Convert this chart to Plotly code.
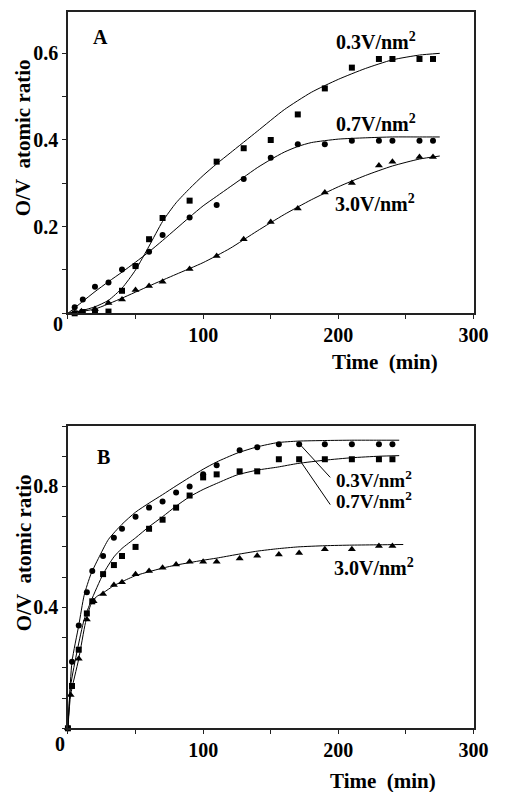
import plotly.graph_objects as go

# ---------------- Panel A data ----------------
a_sq_t = [5, 11, 20, 30, 40, 50, 60, 70, 90, 110, 130, 150, 170, 190, 210, 230, 240, 260, 270]
a_sq_v = [0.0, 0.003, 0.004, 0.004, 0.052, 0.109, 0.171, 0.22, 0.26, 0.35, 0.381, 0.40, 0.459, 0.519, 0.567, 0.587, 0.587, 0.587, 0.587]
a_ci_t = [5, 11, 20, 30, 40, 50, 60, 70, 90, 110, 130, 150, 170, 190, 210, 230, 240, 260, 270]
a_ci_v = [0.014, 0.032, 0.061, 0.071, 0.101, 0.109, 0.142, 0.181, 0.221, 0.25, 0.31, 0.359, 0.39, 0.39, 0.398, 0.398, 0.398, 0.398, 0.398]
a_tr_t = [5, 10, 20, 30, 40, 50, 60, 70, 90, 110, 130, 150, 170, 190, 210, 230, 240, 260, 270]
a_tr_v = [0.0, 0.005, 0.01, 0.024, 0.032, 0.054, 0.063, 0.073, 0.102, 0.132, 0.171, 0.211, 0.242, 0.279, 0.301, 0.341, 0.35, 0.361, 0.361]

a_fit03_t = [0, 10, 20, 30, 40, 50, 60, 70, 80, 90, 100, 110, 120, 140, 160, 180, 200, 220, 240, 260, 275]
a_fit03_v = [0.0, 0.006, 0.015, 0.03, 0.058, 0.1, 0.155, 0.212, 0.255, 0.288, 0.318, 0.345, 0.37, 0.42, 0.47, 0.51, 0.54, 0.565, 0.585, 0.596, 0.6]
a_fit07_t = [0, 10, 20, 30, 40, 50, 60, 70, 80, 90, 100, 110, 120, 130, 140, 150, 160, 170, 180, 200, 220, 240, 260, 275]
a_fit07_v = [0.0, 0.025, 0.05, 0.073, 0.095, 0.118, 0.142, 0.168, 0.195, 0.222, 0.248, 0.27, 0.292, 0.314, 0.336, 0.355, 0.372, 0.385, 0.394, 0.402, 0.405, 0.407, 0.407, 0.407]
a_fit30_t = [0, 20, 40, 60, 80, 100, 120, 140, 160, 180, 200, 220, 240, 260, 275]
a_fit30_v = [0.0, 0.01, 0.035, 0.063, 0.09, 0.117, 0.15, 0.19, 0.228, 0.262, 0.292, 0.318, 0.34, 0.356, 0.363]

# ---------------- Panel B data ----------------
b_ci_t = [0, 3, 8, 14, 18, 26, 34, 40, 50, 60, 70, 80, 90, 100, 110, 127, 140, 156, 171, 190, 210, 230, 240]
b_ci_v = [0.0, 0.22, 0.34, 0.45, 0.52, 0.57, 0.63, 0.66, 0.70, 0.73, 0.75, 0.78, 0.80, 0.84, 0.87, 0.92, 0.93, 0.94, 0.94, 0.94, 0.94, 0.94, 0.94]
b_sq_t = [0, 3, 8, 14, 18, 26, 34, 40, 50, 60, 70, 80, 90, 100, 110, 127, 140, 156, 171, 190, 210, 230, 240]
b_sq_v = [0.0, 0.14, 0.26, 0.38, 0.42, 0.51, 0.54, 0.57, 0.60, 0.66, 0.69, 0.73, 0.77, 0.83, 0.84, 0.85, 0.85, 0.89, 0.89, 0.89, 0.89, 0.89, 0.89]
b_tr_t = [0, 2, 8, 14, 19, 26, 34, 40, 50, 60, 70, 80, 90, 100, 110, 127, 140, 156, 171, 190, 210, 230, 240]
b_tr_v = [0.0, 0.11, 0.23, 0.36, 0.42, 0.444, 0.474, 0.483, 0.51, 0.52, 0.531, 0.542, 0.551, 0.551, 0.551, 0.562, 0.571, 0.575, 0.58, 0.592, 0.592, 0.603, 0.603]

b_fit03_t = [0, 3, 8, 12, 17, 24, 30, 40, 50, 60, 70, 80, 90, 100, 110, 125, 140, 155, 170, 190, 210, 230, 245]
b_fit03_v = [0.0, 0.22, 0.34, 0.44, 0.51, 0.575, 0.625, 0.675, 0.715, 0.745, 0.773, 0.802, 0.83, 0.857, 0.881, 0.91, 0.931, 0.945, 0.95, 0.952, 0.953, 0.953, 0.953]
b_fit07_t = [0, 2, 7, 12, 17, 26, 34, 40, 50, 60, 70, 80, 90, 100, 110, 125, 140, 155, 170, 190, 210, 230, 245]
b_fit07_v = [0.0, 0.14, 0.26, 0.36, 0.42, 0.51, 0.567, 0.595, 0.63, 0.667, 0.70, 0.735, 0.766, 0.79, 0.81, 0.838, 0.854, 0.864, 0.876, 0.887, 0.895, 0.9, 0.902]
b_fit30_t = [0, 2, 8, 13, 17, 21, 26, 34, 40, 50, 60, 70, 80, 90, 100, 110, 125, 140, 155, 170, 190, 210, 230, 248]
b_fit30_v = [0.0, 0.11, 0.23, 0.35, 0.41, 0.435, 0.448, 0.472, 0.485, 0.505, 0.518, 0.53, 0.54, 0.548, 0.556, 0.563, 0.575, 0.586, 0.594, 0.6, 0.604, 0.606, 0.607, 0.608]

x_tickvals = [100, 200, 300]
a_y_tickvals = [0.2, 0.4, 0.6]
b_y_tickvals = [0.4, 0.8]
series_labels = ["0.3V/nm<sup>2</sup>", "0.7V/nm<sup>2</sup>", "3.0V/nm<sup>2</sup>"]

FONT = "Liberation Serif"
INK = "black"
W, H = 507, 792

fig = go.Figure()

def line(t, v, xa, ya):
    fig.add_trace(go.Scatter(x=t, y=v, mode="lines", line=dict(color=INK, width=1, shape="spline", smoothing=0.6),
                             xaxis=xa, yaxis=ya, showlegend=False, hoverinfo="skip"))

def pts(t, v, sym, size, xa, ya):
    fig.add_trace(go.Scatter(x=t, y=v, mode="markers", marker=dict(symbol=sym, size=size, color=INK),
                             xaxis=xa, yaxis=ya, showlegend=False, cliponaxis=False))

line(a_fit03_t, a_fit03_v, "x", "y")
line(a_fit07_t, a_fit07_v, "x", "y")
line(a_fit30_t, a_fit30_v, "x", "y")
pts(a_sq_t, a_sq_v, "square", 6, "x", "y")
pts(a_ci_t, a_ci_v, "circle", 6, "x", "y")
pts(a_tr_t, a_tr_v, "triangle-up", 7, "x", "y")

line(b_fit03_t, b_fit03_v, "x2", "y2")
line(b_fit07_t, b_fit07_v, "x2", "y2")
line(b_fit30_t, b_fit30_v, "x2", "y2")
pts(b_ci_t, b_ci_v, "circle", 6, "x2", "y2")
pts(b_sq_t, b_sq_v, "square", 6, "x2", "y2")
pts(b_tr_t, b_tr_v, "triangle-up", 7, "x2", "y2")

xdom = [70 / W, 488 / W]
a_ydom = [1 - 313.3 / H, 1 - 12 / H]
b_ydom = [1 - 728.3 / H, 1 - 426 / H]

tickfont = dict(family=FONT, size=20, color=INK, weight="bold")
axline = dict(showline=True, linecolor="#222", linewidth=1.5, mirror=True, showgrid=False, zeroline=False)

xcommon = dict(range=[0, 300], tickvals=x_tickvals, ticks="outside", ticklen=0, tickfont=tickfont,
               ticklabelstandoff=3,
               minor=dict(dtick=50, tick0=0, ticks="outside", ticklen=4, tickcolor="#222"), **axline)

fig.update_layout(
    width=W, height=H, margin=dict(l=0, r=0, t=0, b=0),
    paper_bgcolor="white", plot_bgcolor="white",
    xaxis=dict(domain=xdom, anchor="y", **xcommon),
    yaxis=dict(domain=a_ydom, anchor="x", range=[0, 0.6954], tickvals=a_y_tickvals, ticktext=["0.2", "0.4", "0.6"],
               ticks="outside", ticklen=4, tickcolor="#222", tickfont=tickfont,
               minor=dict(dtick=0.1, tick0=0, ticks="outside", ticklen=4, tickcolor="#222"), **axline),
    xaxis2=dict(domain=xdom, anchor="y2", **xcommon),
    yaxis2=dict(domain=b_ydom, anchor="x2", range=[0, 1.0], tickvals=b_y_tickvals, ticktext=["0.4", "0.8"],
                ticks="outside", ticklen=4, tickcolor="#222", tickfont=tickfont,
                minor=dict(dtick=0.1, tick0=0, ticks="outside", ticklen=4, tickcolor="#222"), **axline),
)

lab_font = dict(family=FONT, size=20, color=INK, weight="bold")
labB_font = dict(family=FONT, size=19, color=INK, weight="bold")
C = dict(showarrow=False, xanchor="center", yanchor="middle")
ann = []
# panel letters
ann.append(dict(text="A", x=23.8, y=0.638, xref="x", yref="y", font=lab_font, **C))
ann.append(dict(text="B", x=26.4, y=0.898, xref="x2", yref="y2", font=lab_font, **C))
# series labels panel A
ann.append(dict(text=series_labels[0], x=227.5, y=0.629, xref="x", yref="y", font=lab_font, **C))
ann.append(dict(text=series_labels[1], x=227.5, y=0.4385, xref="x", yref="y", font=lab_font, **C))
ann.append(dict(text=series_labels[2], x=226.8, y=0.255, xref="x", yref="y", font=lab_font, **C))
# series labels panel B
ann.append(dict(text=series_labels[0], x=226.3, y=0.826, xref="x2", yref="y2", font=labB_font, **C))
ann.append(dict(text=series_labels[1], x=226.3, y=0.754, xref="x2", yref="y2", font=labB_font, **C))
ann.append(dict(text=series_labels[2], x=226.3, y=0.534, xref="x2", yref="y2", font=lab_font, **C))
# origin labels
ann.append(dict(text="0", x=60 / W, y=1 - 324 / H, xref="paper", yref="paper", font=lab_font, **C))
ann.append(dict(text="0", x=62 / W, y=1 - 744 / H, xref="paper", yref="paper", font=lab_font, **C))
# axis titles
title_font = dict(family=FONT, size=21, color=INK, weight="bold")
ann.append(dict(text="Time\u00a0 (min)", x=397 / W, y=1 - 362 / H, xref="paper", yref="paper", font=title_font, **C))
ann.append(dict(text="Time\u00a0 (min)", x=395 / W, y=1 - 781 / H, xref="paper", yref="paper", font=title_font, **C))
ann.append(dict(text="O/V\u00a0 atomic ratio", x=24 / W, y=1 - 138 / H, xref="paper", yref="paper",
                textangle=-90, font=title_font, **C))
ann.append(dict(text="O/V\u00a0 atomic ratio", x=25 / W, y=1 - 553 / H, xref="paper", yref="paper",
                textangle=-90, font=title_font, **C))
fig.update_layout(annotations=ann)

# leader lines in panel B
fig.add_shape(type="line", x0=171, y0=0.942, x1=194, y1=0.83, xref="x2", yref="y2", line=dict(color=INK, width=1))
fig.add_shape(type="line", x0=171, y0=0.89, x1=194, y1=0.74, xref="x2", yref="y2", line=dict(color=INK, width=1))

fig.write_html("out.html", config={"displayModeBar": False},
               post_script="document.body.style.margin='0';")
